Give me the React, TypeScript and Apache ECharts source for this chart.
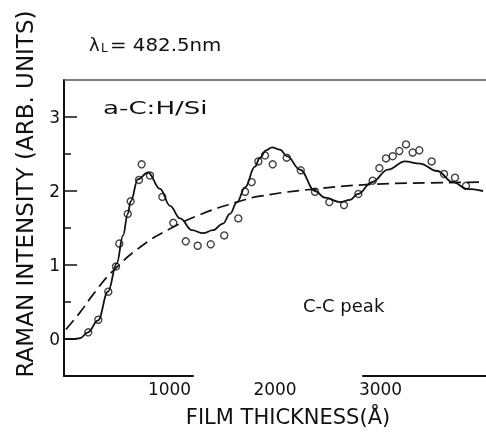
import React, { useEffect, useRef } from "react";
import * as echarts from "echarts";

// Measured Raman intensity (open circles)
const pointX = [230, 325, 420, 493, 524, 604, 632, 711, 736, 815, 932, 1036, 1154, 1267, 1391, 1519, 1652, 1716, 1779, 1842, 1905, 1978, 2111, 2244, 2379, 2515, 2654, 2790, 2926, 2989, 3052, 3116, 3178, 3242, 3305, 3368, 3485, 3602, 3706, 3810];
const pointY = [0.09, 0.26, 0.64, 0.98, 1.29, 1.69, 1.86, 2.15, 2.36, 2.21, 1.92, 1.57, 1.32, 1.26, 1.28, 1.40, 1.63, 1.99, 2.12, 2.40, 2.48, 2.36, 2.45, 2.28, 1.99, 1.85, 1.81, 1.96, 2.14, 2.31, 2.44, 2.47, 2.54, 2.63, 2.52, 2.55, 2.40, 2.23, 2.18, 2.07];

// Calculated curve (solid)
const fitX = [0, 85, 152, 227, 322, 417, 500, 560, 604, 632, 701, 796, 910, 1005, 1100, 1213, 1318, 1412, 1507, 1573, 1640, 1716, 1810, 1858, 1915, 1972, 2047, 2114, 2237, 2379, 2474, 2616, 2711, 2787, 2919, 3071, 3232, 3374, 3536, 3687, 3820, 3972];
const fitY = [0, 0, 0.01, 0.09, 0.25, 0.64, 1.02, 1.40, 1.69, 1.86, 2.16, 2.25, 2.03, 1.80, 1.63, 1.47, 1.43, 1.47, 1.56, 1.69, 1.85, 2.05, 2.33, 2.45, 2.55, 2.59, 2.56, 2.47, 2.29, 2.0, 1.91, 1.85, 1.88, 1.96, 2.12, 2.29, 2.40, 2.37, 2.27, 2.12, 2.03, 2.0];

// Curve without interference (dashed)
const trendX = [19, 152, 275, 464, 749, 1005, 1289, 1640, 1858, 2398, 2929, 3469, 3972];
const trendY = [0.13, 0.36, 0.60, 0.92, 1.27, 1.49, 1.68, 1.85, 1.93, 2.03, 2.09, 2.11, 2.12];

const xTickLabels = [1000, 2000, 3000];
const yTickValues = [0, 0.5, 1, 1.5, 2, 2.5, 3];
const X_MIN = 0;
const X_MAX = 4000;
const Y_MIN = -0.5;
const Y_MAX = 3.5;

const FONT = "DejaVu Sans";
const INK = "#111";

const zip = (xs: number[], ys: number[]) => xs.map((x, i) => [x, ys[i]]);

export default function App() {
  const ref = useRef<HTMLDivElement>(null);
  useEffect(() => {
    if (!ref.current) return;
    const chart = echarts.init(ref.current, null, { renderer: "svg" });
    chart.setOption({
      animation: false,
      grid: { left: 64, right: 0, top: 80, bottom: 52 },
      xAxis: {
        type: "value",
        min: X_MIN,
        max: X_MAX,
        interval: 1000,
        name: "FILM THICKNESS(Å)",
        nameLocation: "middle",
        nameGap: 30,
        nameTextStyle: { fontFamily: FONT, fontSize: 21, color: INK, padding: [0, 0, 0, 26] },
        axisLine: { show: true, onZero: false, lineStyle: { color: INK, width: 2, type: [129, 170] } },
        axisTick: { show: false },
        splitLine: { show: false },
        axisLabel: {
          customValues: xTickLabels,
          formatter: (v: number) => String(v),
          fontFamily: FONT,
          fontSize: 17,
          color: INK,
          margin: 4,
        },
      },
      yAxis: {
        type: "value",
        min: Y_MIN,
        max: Y_MAX,
        interval: 0.5,
        name: "RAMAN INTENSITY (ARB. UNITS)",
        nameLocation: "middle",
        nameGap: 28,
        nameRotate: 90,
        nameTextStyle: { fontFamily: FONT, fontSize: 23, color: INK, padding: [0, 0, 0, 68] },
        axisLine: { show: true, onZero: false, lineStyle: { color: INK, width: 2 } },
        axisTick: { show: false },
        axisLabel: {
          formatter: (v: number) => (Number.isInteger(v) ? String(v) : ""),
          fontFamily: FONT,
          fontSize: 17,
          color: INK,
          margin: 4,
        },
        splitLine: { show: false },
      },
      series: [
        {
          type: "custom",
          data: yTickValues.map((v) => [X_MIN, v]),
          renderItem: (_params: any, api: any) => {
            const v = api.value(1);
            const p = api.coord([api.value(0), v]);
            const len = Number.isInteger(v) ? 13 : 7;
            return {
              type: "rect",
              shape: { x: p[0], y: p[1] - 0.75, width: len, height: 1.5 },
              style: { fill: INK },
            };
          },
        },
        {
          type: "custom",
          data: [[X_MIN, Y_MAX]],
          renderItem: (_params: any, api: any) => {
            const p = api.coord([api.value(0), api.value(1)]);
            const q = api.coord([X_MAX, api.value(1)]);
            return {
              type: "rect",
              shape: { x: p[0], y: p[1] - 0.75, width: q[0] - p[0], height: 1.5 },
              style: { fill: "#555" },
            };
          },
        },
        {
          type: "line",
          data: zip(trendX, trendY),
          showSymbol: false,
          smooth: 0.5,
          lineStyle: { color: INK, width: 1.7, type: [12, 6] },
        },
        {
          type: "line",
          data: zip(fitX, fitY),
          showSymbol: false,
          smooth: 0.4,
          smoothMonotone: "x",
          lineStyle: { color: INK, width: 1.8 },
        },
        {
          type: "scatter",
          data: zip(pointX, pointY),
          symbol: "circle",
          symbolSize: 7,
          itemStyle: { color: "#fff", borderColor: INK, borderWidth: 1.4 },
        },
      ],
      graphic: [
        { type: "text", x: 89, y: 44, style: { text: "λ", fontFamily: FONT, fontSize: 18, fill: INK, align: "left", verticalAlign: "middle" } },
        { type: "text", x: 101, y: 48, style: { text: "L", fontFamily: FONT, fontSize: 12, fill: INK, align: "left", verticalAlign: "middle" } },
        { type: "text", x: 110, y: 44, scaleX: 1.1, style: { text: "= 482.5nm", fontFamily: FONT, fontSize: 18, fill: INK, align: "left", verticalAlign: "middle" } },
        { type: "text", x: 103, y: 108, scaleX: 1.45, style: { text: "a-C:H/Si", fontFamily: FONT, fontSize: 18, fill: INK, align: "left", verticalAlign: "middle" } },
        { type: "text", x: 303, y: 305, style: { text: "C-C peak", fontFamily: FONT, fontSize: 18, fill: INK, align: "left", verticalAlign: "middle" } },
      ],
    });
    return () => chart.dispose();
  }, []);
  return <div ref={ref} style={{ position: "fixed", left: 0, top: 0, width: 486, height: 432 }} />;
}
